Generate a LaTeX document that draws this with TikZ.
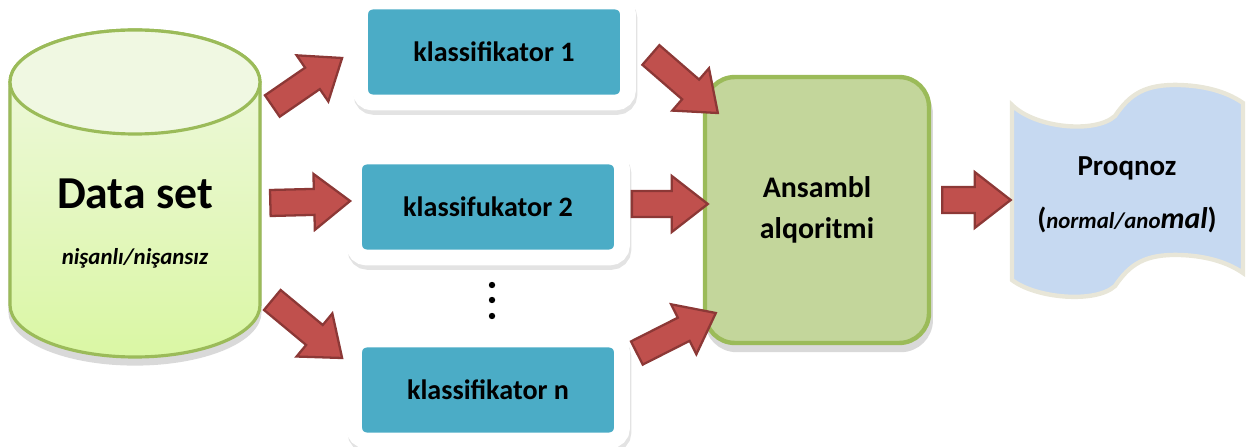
\documentclass[tikz,border=0pt]{standalone}
\usepackage{fontspec}
\setmainfont{Carlito}
\usepackage{tikz}
\usetikzlibrary{calc, shadows}
\definecolor{KTeal}{HTML}{4BACC6}
\definecolor{EnsGreen}{HTML}{C3D69B}
\definecolor{EdgeGreen}{HTML}{9BBB59}
\definecolor{CylTop}{HTML}{F0F8E2}
\definecolor{CylBot}{HTML}{DAF7A4}
\definecolor{ProgBlue}{HTML}{C6D9F1}
\definecolor{ProgEdge}{HTML}{E8E6D8}
\definecolor{ArrRed}{HTML}{C0504D}
\definecolor{ArrEdge}{HTML}{8C3836}

\newcommand{\kfont}{\fontsize{16}{19}\selectfont\bfseries}
\newcommand{\efont}{\fontsize{17}{20}\selectfont\bfseries}

% block arrow from tail #1 to tip #2
\newcommand{\fatarrow}[2]{%
  \coordinate (fa-h) at ($(#2)!0.72cm!(#1)$);
  \filldraw[fatarr] ($(#1)!0.26cm!90:(#2)$) -- ($(fa-h)!0.26cm!90:(#2)$)
     -- ($(fa-h)!0.56cm!90:(#2)$) -- (#2) -- ($(fa-h)!0.56cm!-90:(#2)$)
     -- ($(fa-h)!0.26cm!-90:(#2)$) -- ($(#1)!0.26cm!-90:(#2)$) -- cycle;}

\begin{document}
\begin{tikzpicture}[x=0.02cm, y=0.02cm,
    kbox/.style={rectangle, rounded corners=7pt, fill=KTeal, draw=white,
                 line width=9pt, minimum width=5.36cm, minimum height=2.02cm,
                 font=\kfont,
                 general shadow={fill=black!11, draw=black!11, line width=9pt,
                                 shadow xshift=0.8pt, shadow yshift=-2.5pt}},
    ensbox/.style={rectangle, rounded corners=17pt, fill=EnsGreen, draw=EdgeGreen,
                   line width=2.5pt, minimum width=4.48cm, minimum height=5.32cm,
                   align=center, font=\efont,
                   general shadow={fill=black!15, draw=black!15, line width=2.5pt,
                                   shadow xshift=1pt, shadow yshift=-4pt}},
    fatarr/.style={fill=ArrRed, draw=ArrEdge, line width=1.3pt}
  ]
  \useasboundingbox (0,0) rectangle (1246,446);

  % Data set cylinder
  \path[draw=EdgeGreen, line width=1.8pt, top color=CylTop, bottom color=CylBot,
        general shadow={fill=black!15, draw=black!15, line width=1.8pt, shadow yshift=-4pt}]
    (10,364) -- (10,141) arc[start angle=180, end angle=360, x radius=125, y radius=52]
    -- (260,364) arc[start angle=0, end angle=180, x radius=125, y radius=52] -- cycle;
  \draw[EdgeGreen, line width=1.8pt, fill=CylTop] (135,364) ellipse[x radius=125, y radius=52];
  \node[minimum width=5cm, minimum height=6.54cm] (db) at (135,252.5) {};
  \node[font=\fontsize{26}{30}\selectfont\bfseries] (dbtitle) at (135,252) {Data set};
  \node[font=\fontsize{13}{15}\selectfont\bfseries\itshape] (dbtag) at (135,188) {nişanlı/nişansız};

  % Classifiers
  \node[kbox] (k1) at (494,394) {klassifikator 1};
  \node[kbox] (k2) at (488,239) {klassifukator 2};
  \node[kbox] (kn) at (488,56) {klassifikator n};
  \fill (492,161) circle[radius=3.2];
  \fill (492,146) circle[radius=3.2];
  \fill (492,130) circle[radius=3.2];

  % Ensemble
  \node[ensbox] (ens) at (817,236) {Ansambl\\[3pt]alqoritmi};

  % Prognosis
  \path[fill=ProgBlue, draw=ProgEdge, line width=2.5pt]
    (1012,341) .. controls (1035,318) and (1095,312) .. (1115,330)
    .. controls (1130,352) and (1145,362) .. (1180,361)
    .. controls (1210,360) and (1230,352) .. (1243,343) -- (1243,173)
    .. controls (1230,182) and (1210,190) .. (1180,191)
    .. controls (1145,192) and (1130,182) .. (1115,160)
    .. controls (1095,142) and (1035,148) .. (1012,166) -- cycle;
  \node[minimum width=4.6cm, minimum height=3.4cm, align=center,
        font=\fontsize{16.5}{19.5}\selectfont\bfseries] (prog) at (1127,251)
    {Proqnoz\\[11pt]({\fontsize{13}{15}\selectfont\itshape normal/ano}{\fontsize{17}{20}\selectfont\itshape mal})};

  % Arrows
  \coordinate (a1s) at ($(db.east)+(12,87.5)$);
  \coordinate (a1e) at ($(k1.west)+(-10,-6)$);
  \coordinate (a2s) at ($(db.east)+(10,-9.5)$);
  \coordinate (a2e) at ($(k2.west)+(4,6)$);
  \coordinate (a3s) at ($(db.east)+(12,-106.5)$);
  \coordinate (a3e) at ($(kn.west)+(-4,32)$);
  \coordinate (b1s) at ($(k1.east)+(15,-3)$);
  \coordinate (b1e) at ($(ens.west)+(15,97)$);
  \coordinate (b2s) at ($(k2.east)+(2,3)$);
  \coordinate (b2e) at ($(ens.west)+(5,6)$);
  \coordinate (b3s) at ($(kn.east)+(7,37)$);
  \coordinate (b3e) at ($(ens.west)+(13,-103)$);
  \coordinate (cs) at ($(ens.east)+(11,10)$);
  \coordinate (ce) at ($(prog.west)+(-1,-5)$);
  \fatarrow{a1s}{a1e}
  \fatarrow{a2s}{a2e}
  \fatarrow{a3s}{a3e}
  \fatarrow{b1s}{b1e}
  \fatarrow{b2s}{b2e}
  \fatarrow{b3s}{b3e}
  \fatarrow{cs}{ce}
\end{tikzpicture}
\end{document}
